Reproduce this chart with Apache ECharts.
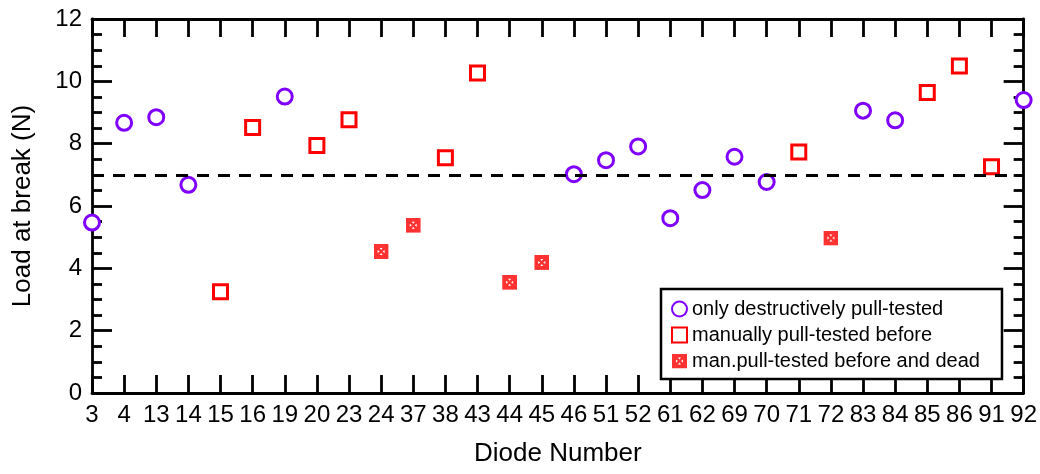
<!DOCTYPE html>
<html>
<head>
<meta charset="utf-8">
<script src="https://cdn.jsdelivr.net/npm/echarts@6/dist/echarts.min.js"></script>
<style>
  html, body { margin: 0; padding: 0; background: #fff; }
  #chart { width: 1040px; height: 474px; }
</style>
</head>
<body>
<div id="chart"></div>
<script>
// Diode numbers along the x axis
const diodes = ['3','4','13','14','15','16','19','20','23','24','37','38','43','44','45',
                '46','51','52','61','62','69','70','71','72','83','84','85','86','91','92'];
// Load at break (N) for each diode
const loads = [5.47, 8.67, 8.85, 6.68, 3.25, 8.52, 9.51, 7.94, 8.77, 4.54, 5.38, 7.55, 10.27, 3.55, 4.19,
               7.02, 7.47, 7.91, 5.61, 6.51, 7.58, 6.77, 7.73, 4.97, 9.06, 8.75, 9.64, 10.49, 7.26, 9.40];
// Test history: o = only destructive, m = manually pull-tested before, d = manually tested and dead
const history = ['o','o','o','o','m','m','o','m','m','d','d','m','m','d','d',
                 'o','o','o','o','o','o','o','m','d','o','o','m','m','m','o'];
const seriesNames = {
  o: 'only destructively pull-tested',
  m: 'manually pull-tested before',
  d: 'man.pull-tested before and dead'
};
const threshold = 7;
const yTicks = { min: 0, max: 12, step: 2 };

const purple = '#7f00ff';
const red = '#ff0000';
const font = "'Liberation Sans', Arial, sans-serif";

function pick(kind) {
  const out = [];
  diodes.forEach((d, i) => { if (history[i] === kind) out.push([d, loads[i]]); });
  return out;
}

// filled red square with small white inward-pointing triangles
const deadSvg = '<svg xmlns="http://www.w3.org/2000/svg" width="15" height="15" viewBox="0 0 15 15">' +
  '<rect x="0" y="0" width="15" height="15" fill="#ff0000"/>' +
  '<polygon points="6,4 9,4 7.5,6" fill="#fff"/>' +
  '<polygon points="6,11 9,11 7.5,9" fill="#fff"/>' +
  '<polygon points="4,6 4,9 6,7.5" fill="#fff"/>' +
  '<polygon points="11,6 11,9 9,7.5" fill="#fff"/>' +
  '</svg>';
const deadSymbol = 'image://data:image/svg+xml;charset=utf-8,' + encodeURIComponent(deadSvg);

const chart = echarts.init(document.getElementById('chart'), null, { renderer: 'canvas' });

const axisLine = { show: true, onZero: false, lineStyle: { color: '#000', width: 2.8 } };
const tickStyle = { color: '#000', width: 2.8 };

chart.setOption({
  animation: false,
  backgroundColor: '#fff',
  textStyle: { fontFamily: font },
  grid: { left: 92, right: 13, top: 19, bottom: 81, containLabel: false },
  legend: {
    orient: 'vertical',
    left: 661, top: 289,
    padding: [10, 22, 8, 10],
    itemGap: 6,
    itemWidth: 15, itemHeight: 15,
    borderColor: '#000', borderWidth: 2.5,
    backgroundColor: '#fff',
    textStyle: { fontFamily: font, fontSize: 20, color: '#000' },
    data: [
      { name: seriesNames.o, icon: 'circle' },
      { name: seriesNames.m, icon: 'rect' },
      { name: seriesNames.d, icon: deadSymbol }
    ]
  },
  xAxis: [
    {
      type: 'category', data: diodes, boundaryGap: false, position: 'bottom',
      name: 'Diode Number', nameLocation: 'middle', nameGap: 48,
      nameTextStyle: { fontFamily: font, fontSize: 26, color: '#000' },
      axisLine: axisLine,
      axisTick: { show: true, inside: true, length: 18, interval: 0, lineStyle: tickStyle },
      axisLabel: { interval: 0, fontFamily: font, fontSize: 24, color: '#000', margin: 10 },
      splitLine: { show: false }
    },
    {
      type: 'category', data: diodes, boundaryGap: false, position: 'top',
      axisLine: axisLine,
      axisTick: { show: true, inside: true, length: 18, interval: 0, lineStyle: tickStyle },
      axisLabel: { show: false },
      splitLine: { show: false }
    }
  ],
  yAxis: [
    {
      type: 'value', min: yTicks.min, max: yTicks.max, interval: yTicks.step, position: 'left',
      name: 'Load at break (N)', nameLocation: 'middle', nameGap: 56, nameRotate: 90,
      nameTextStyle: { fontFamily: font, fontSize: 26, color: '#000' },
      axisLine: axisLine,
      axisTick: { show: true, inside: true, length: 20, lineStyle: tickStyle },
      minorTick: { show: true, splitNumber: 4, length: 10, lineStyle: tickStyle },
      axisLabel: { fontFamily: font, fontSize: 24, color: '#000', margin: 10 },
      splitLine: { show: false }
    },
    {
      type: 'value', min: yTicks.min, max: yTicks.max, interval: yTicks.step, position: 'right',
      axisLine: axisLine,
      axisTick: { show: true, inside: true, length: 20, lineStyle: tickStyle },
      minorTick: { show: true, splitNumber: 4, length: 10, lineStyle: tickStyle },
      axisLabel: { show: false },
      splitLine: { show: false }
    }
  ],
  series: [
    {
      name: seriesNames.o, type: 'scatter', data: pick('o'),
      symbol: 'circle', symbolSize: 15,
      itemStyle: { color: '#fff', borderColor: purple, borderWidth: 3, opacity: 1 },
      markLine: {
        silent: true, symbol: 'none',
        label: { show: false },
        lineStyle: { color: '#000', width: 2.8, type: [12, 9] },
        data: [{ yAxis: threshold }]
      },
      z: 3
    },
    {
      name: seriesNames.m, type: 'scatter', data: pick('m'),
      symbol: 'rect', symbolSize: 14,
      itemStyle: { color: '#fff', borderColor: red, borderWidth: 3, opacity: 1 },
      z: 3
    },
    {
      name: seriesNames.d, type: 'scatter', data: pick('d'),
      symbol: deadSymbol, symbolSize: 15,
      z: 3
    }
  ]
});
</script>
</body>
</html>
